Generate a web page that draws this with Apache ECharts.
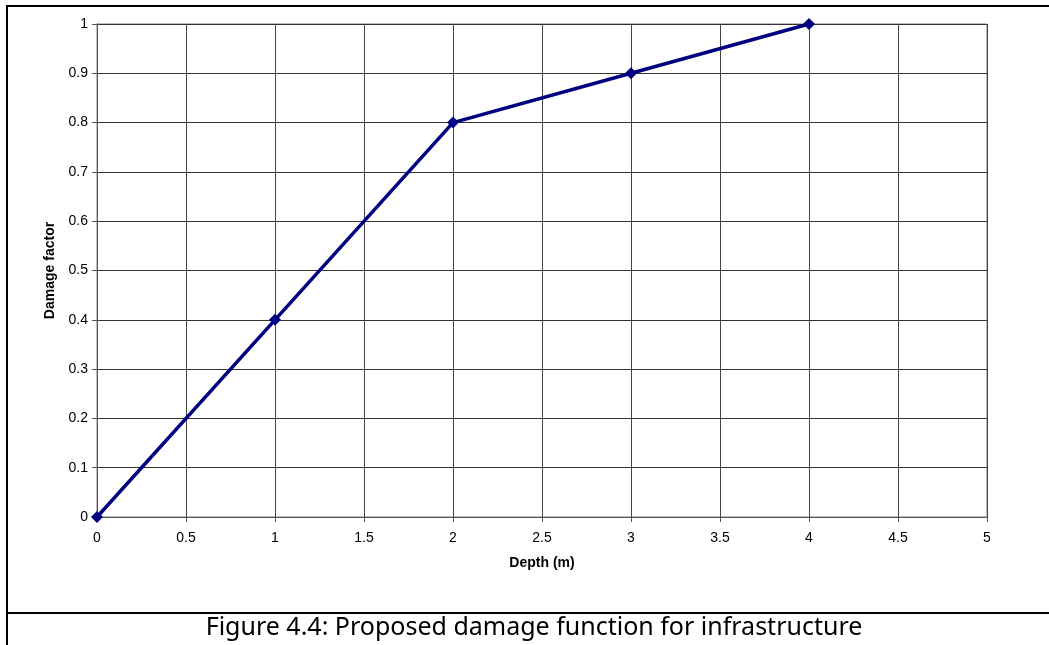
<!DOCTYPE html>
<html><head><meta charset="utf-8">
<script src="https://cdn.jsdelivr.net/npm/echarts@6/dist/echarts.min.js"></script>
<style>html,body{margin:0;padding:0;background:#fff}#c{width:1049px;height:645px}</style>
</head><body><div id="c"></div>
<script>
const depth = [0, 1, 2, 3, 4];
const damage = [0, 0.4, 0.8, 0.9, 1];
const xTitle = 'Depth (m)';
const yTitle = 'Damage factor';
const caption = 'Figure 4.4: Proposed damage function for infrastructure';

const chart = echarts.init(document.getElementById('c'), null, {renderer: 'canvas'});
const axisFont = {fontFamily: 'Liberation Sans, Arial', fontSize: 14, color: '#000'};
const nameFont = {fontFamily: 'Liberation Sans, Arial', fontSize: 14, fontWeight: 'bold', color: '#000'};
chart.setOption({
  animation: false,
  grid: {left: 97, right: 62, top: 24, bottom: 128, show: true, borderColor: '#808080', borderWidth: 1},
  xAxis: {
    type: 'value', min: 0, max: 5, interval: 0.5,
    name: xTitle, nameLocation: 'middle', nameGap: 39,
    nameTextStyle: nameFont,
    axisLine: {show: true, lineStyle: {color: '#555', width: 1}},
    axisTick: {show: true, length: 5, lineStyle: {color: '#555'}},
    axisLabel: Object.assign({margin: 14}, axisFont),
    splitLine: {show: true, lineStyle: {color: '#444', width: 1}}
  },
  yAxis: {
    type: 'value', min: 0, max: 1, interval: 0.1,
    name: yTitle, nameLocation: 'middle', nameGap: 37, nameRotate: 90,
    nameTextStyle: nameFont,
    axisLine: {show: true, lineStyle: {color: '#555', width: 1}},
    axisTick: {show: true, length: 5, lineStyle: {color: '#555'}},
    axisLabel: Object.assign({margin: 9, formatter: v => String(Math.round(v*10)/10)}, axisFont),
    splitLine: {show: true, lineStyle: {color: '#333', width: 1}}
  },
  series: [{
    type: 'line',
    data: depth.map((d, i) => [d, damage[i]]),
    lineStyle: {color: '#000080', width: 3.5},
    itemStyle: {color: '#000080'},
    symbol: 'diamond', symbolSize: 12, showSymbol: true,
    clip: false
  }],
  graphic: [
    {type: 'line', shape: {x1: 7, y1: 6, x2: 1049, y2: 6}, style: {stroke: '#000', lineWidth: 2}},
    {type: 'line', shape: {x1: 7, y1: 5, x2: 7, y2: 645}, style: {stroke: '#000', lineWidth: 2}},
    {type: 'line', shape: {x1: 7, y1: 613, x2: 1049, y2: 613}, style: {stroke: '#000', lineWidth: 2}},
    {type: 'text', style: {x: 534, y: 628, align: 'center', verticalAlign: 'middle', text: caption, font: '25px "Noto Sans"', fill: '#000'}}
  ]
});
</script></body></html>
